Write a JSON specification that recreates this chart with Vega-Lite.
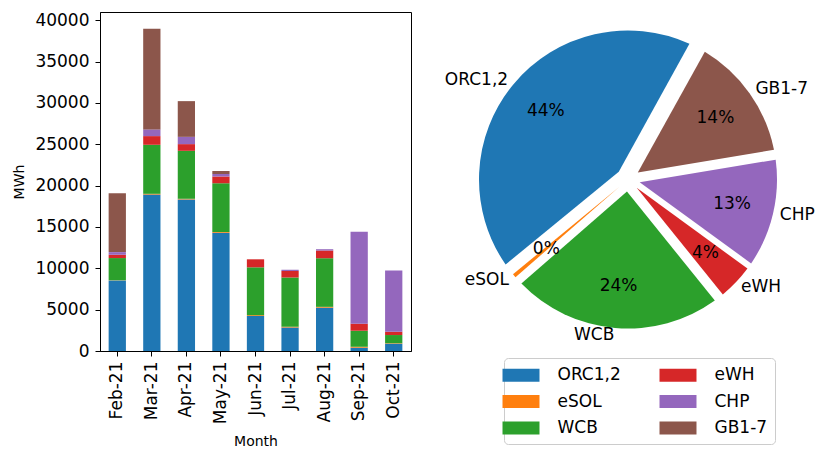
{
  "$schema": "https://vega.github.io/schema/vega-lite/v6.json",
  "padding": {"left": 12, "top": 10, "right": 0, "bottom": 0},
  "autosize": {"type": "pad"},
  "bounds": "flush",
  "spacing": 67,
  "config": {
    "font": "DejaVu Sans",
    "view": {"stroke": "black", "strokeWidth": 1},
    "axis": {"labelFont": "DejaVu Sans", "labelFontSize": 17, "labelColor": "black", "titleFont": "DejaVu Sans", "titleFontSize": 14, "titleFontWeight": "normal", "titleColor": "black", "tickColor": "black", "domainColor": "black", "tickSize": 5, "grid": false},
    "legend": {"labelFont": "DejaVu Sans"}
  },
  "datasets": {
    "energy": [
      {"month": "Feb-21", "series": "ORC1,2", "k": 1, "MWh": 8540},
      {"month": "Feb-21", "series": "eSOL", "k": 2, "MWh": 20},
      {"month": "Feb-21", "series": "WCB", "k": 3, "MWh": 2680},
      {"month": "Feb-21", "series": "eWH", "k": 4, "MWh": 400},
      {"month": "Feb-21", "series": "CHP", "k": 5, "MWh": 320},
      {"month": "Feb-21", "series": "GB1-7", "k": 6, "MWh": 7130},
      {"month": "Mar-21", "series": "ORC1,2", "k": 1, "MWh": 18920},
      {"month": "Mar-21", "series": "eSOL", "k": 2, "MWh": 90},
      {"month": "Mar-21", "series": "WCB", "k": 3, "MWh": 5930},
      {"month": "Mar-21", "series": "eWH", "k": 4, "MWh": 1050},
      {"month": "Mar-21", "series": "CHP", "k": 5, "MWh": 810},
      {"month": "Mar-21", "series": "GB1-7", "k": 6, "MWh": 12160},
      {"month": "Apr-21", "series": "ORC1,2", "k": 1, "MWh": 18330},
      {"month": "Apr-21", "series": "eSOL", "k": 2, "MWh": 80},
      {"month": "Apr-21", "series": "WCB", "k": 3, "MWh": 5800},
      {"month": "Apr-21", "series": "eWH", "k": 4, "MWh": 810},
      {"month": "Apr-21", "series": "CHP", "k": 5, "MWh": 880},
      {"month": "Apr-21", "series": "GB1-7", "k": 6, "MWh": 4320},
      {"month": "May-21", "series": "ORC1,2", "k": 1, "MWh": 14300},
      {"month": "May-21", "series": "eSOL", "k": 2, "MWh": 90},
      {"month": "May-21", "series": "WCB", "k": 3, "MWh": 5900},
      {"month": "May-21", "series": "eWH", "k": 4, "MWh": 800},
      {"month": "May-21", "series": "CHP", "k": 5, "MWh": 320},
      {"month": "May-21", "series": "GB1-7", "k": 6, "MWh": 360},
      {"month": "Jun-21", "series": "ORC1,2", "k": 1, "MWh": 4230},
      {"month": "Jun-21", "series": "eSOL", "k": 2, "MWh": 100},
      {"month": "Jun-21", "series": "WCB", "k": 3, "MWh": 5790},
      {"month": "Jun-21", "series": "eWH", "k": 4, "MWh": 970},
      {"month": "Jul-21", "series": "ORC1,2", "k": 1, "MWh": 2830},
      {"month": "Jul-21", "series": "eSOL", "k": 2, "MWh": 110},
      {"month": "Jul-21", "series": "WCB", "k": 3, "MWh": 5960},
      {"month": "Jul-21", "series": "eWH", "k": 4, "MWh": 770},
      {"month": "Jul-21", "series": "CHP", "k": 5, "MWh": 160},
      {"month": "Aug-21", "series": "ORC1,2", "k": 1, "MWh": 5240},
      {"month": "Aug-21", "series": "eSOL", "k": 2, "MWh": 100},
      {"month": "Aug-21", "series": "WCB", "k": 3, "MWh": 5880},
      {"month": "Aug-21", "series": "eWH", "k": 4, "MWh": 930},
      {"month": "Aug-21", "series": "CHP", "k": 5, "MWh": 160},
      {"month": "Sep-21", "series": "ORC1,2", "k": 1, "MWh": 400},
      {"month": "Sep-21", "series": "eSOL", "k": 2, "MWh": 110},
      {"month": "Sep-21", "series": "WCB", "k": 3, "MWh": 1940},
      {"month": "Sep-21", "series": "eWH", "k": 4, "MWh": 850},
      {"month": "Sep-21", "series": "CHP", "k": 5, "MWh": 11120},
      {"month": "Oct-21", "series": "ORC1,2", "k": 1, "MWh": 880},
      {"month": "Oct-21", "series": "eSOL", "k": 2, "MWh": 60},
      {"month": "Oct-21", "series": "WCB", "k": 3, "MWh": 990},
      {"month": "Oct-21", "series": "eWH", "k": 4, "MWh": 400},
      {"month": "Oct-21", "series": "CHP", "k": 5, "MWh": 7420}
    ]
  },
  "data": {"name": "energy"},
  "hconcat": [
    {
      "width": 311,
      "height": 339,
      "mark": {"type": "bar"},
      "encoding": {
        "x": {
          "field": "month", "type": "ordinal",
          "sort": ["Feb-21", "Mar-21", "Apr-21", "May-21", "Jun-21", "Jul-21", "Aug-21", "Sep-21", "Oct-21"],
          "title": "Month",
          "scale": {"paddingInner": 0.5, "paddingOuter": 0.25},
          "axis": {"labelAngle": -90, "labelPadding": 5, "titlePadding": 11}
        },
        "y": {
          "field": "MWh", "type": "quantitative", "stack": "zero", "title": "MWh",
          "scale": {"domain": [0, 41000], "nice": false},
          "axis": {"values": [0, 5000, 10000, 15000, 20000, 25000, 30000, 35000, 40000], "format": "d", "labelPadding": 6, "titlePadding": 8}
        },
        "color": {
          "field": "series", "type": "nominal",
          "scale": {
            "domain": ["ORC1,2", "eSOL", "WCB", "eWH", "CHP", "GB1-7"],
            "range": ["#1f77b4", "#ff7f0e", "#2ca02c", "#d62728", "#9467bd", "#8c564b"]
          },
          "legend": {
            "orient": "none", "legendX": 404, "legendY": 346, "title": null, "columns": 2,
            "symbolType": "M-2,-0.7H2V0.7H-2Z", "symbolSize": 342, "symbolStrokeWidth": 0, "symbolOpacity": 1,
            "labelFontSize": 17, "labelColor": "black", "labelOffset": 27,
            "columnPadding": 38, "rowPadding": 8.5, "padding": 7.5,
            "strokeColor": "#cccccc", "fillColor": "white", "cornerRadius": 4
          }
        },
        "order": {"field": "k", "sort": "ascending"}
      }
    },
    {
      "width": 300,
      "height": 335,
      "view": {"stroke": null},
      "transform": [
        {"aggregate": [{"op": "sum", "field": "MWh", "as": "total"}], "groupby": ["series", "k"]},
        {"joinaggregate": [{"op": "sum", "field": "total", "as": "all"}]},
        {"calculate": "datum.total / datum.all", "as": "share"}
      ],
      "encoding": {
        "theta": {"field": "total", "type": "quantitative", "stack": true, "scale": {"range": [0.506, 6.789]}},
        "order": {"field": "k", "sort": "descending"},
        "detail": {"field": "series"}
      },
      "layer": [
        {
          "mark": {"type": "arc", "outerRadius": 149, "innerRadius": 12, "padAngle": {"expr": "0.164 * sin(PI * datum.share)"}},
          "encoding": {
            "color": {
              "field": "series", "type": "nominal",
              "legend": {
                "orient": "none", "legendX": 404, "legendY": 346, "title": null, "columns": 2,
                "symbolType": "M-2,-0.7H2V0.7H-2Z", "symbolSize": 342, "symbolStrokeWidth": 0, "symbolOpacity": 1,
                "labelFontSize": 17, "labelColor": "black", "labelOffset": 27,
                "columnPadding": 38, "rowPadding": 8.5, "padding": 7.5,
                "strokeColor": "#cccccc", "fillColor": "white", "cornerRadius": 4
              }
            }
          }
        },
        {
          "mark": {"type": "text", "radius": 107, "fontSize": 17, "color": "black"},
          "encoding": {"text": {"field": "share", "type": "quantitative", "format": ".0%"}}
        },
        {
          "mark": {"type": "text", "radius": 156, "fontSize": 17, "color": "black", "baseline": "middle", "align": {"expr": "datum.k <= 3 ? 'right' : 'left'"}},
          "encoding": {"text": {"field": "series", "type": "nominal"}}
        }
      ]
    }
  ]
}
